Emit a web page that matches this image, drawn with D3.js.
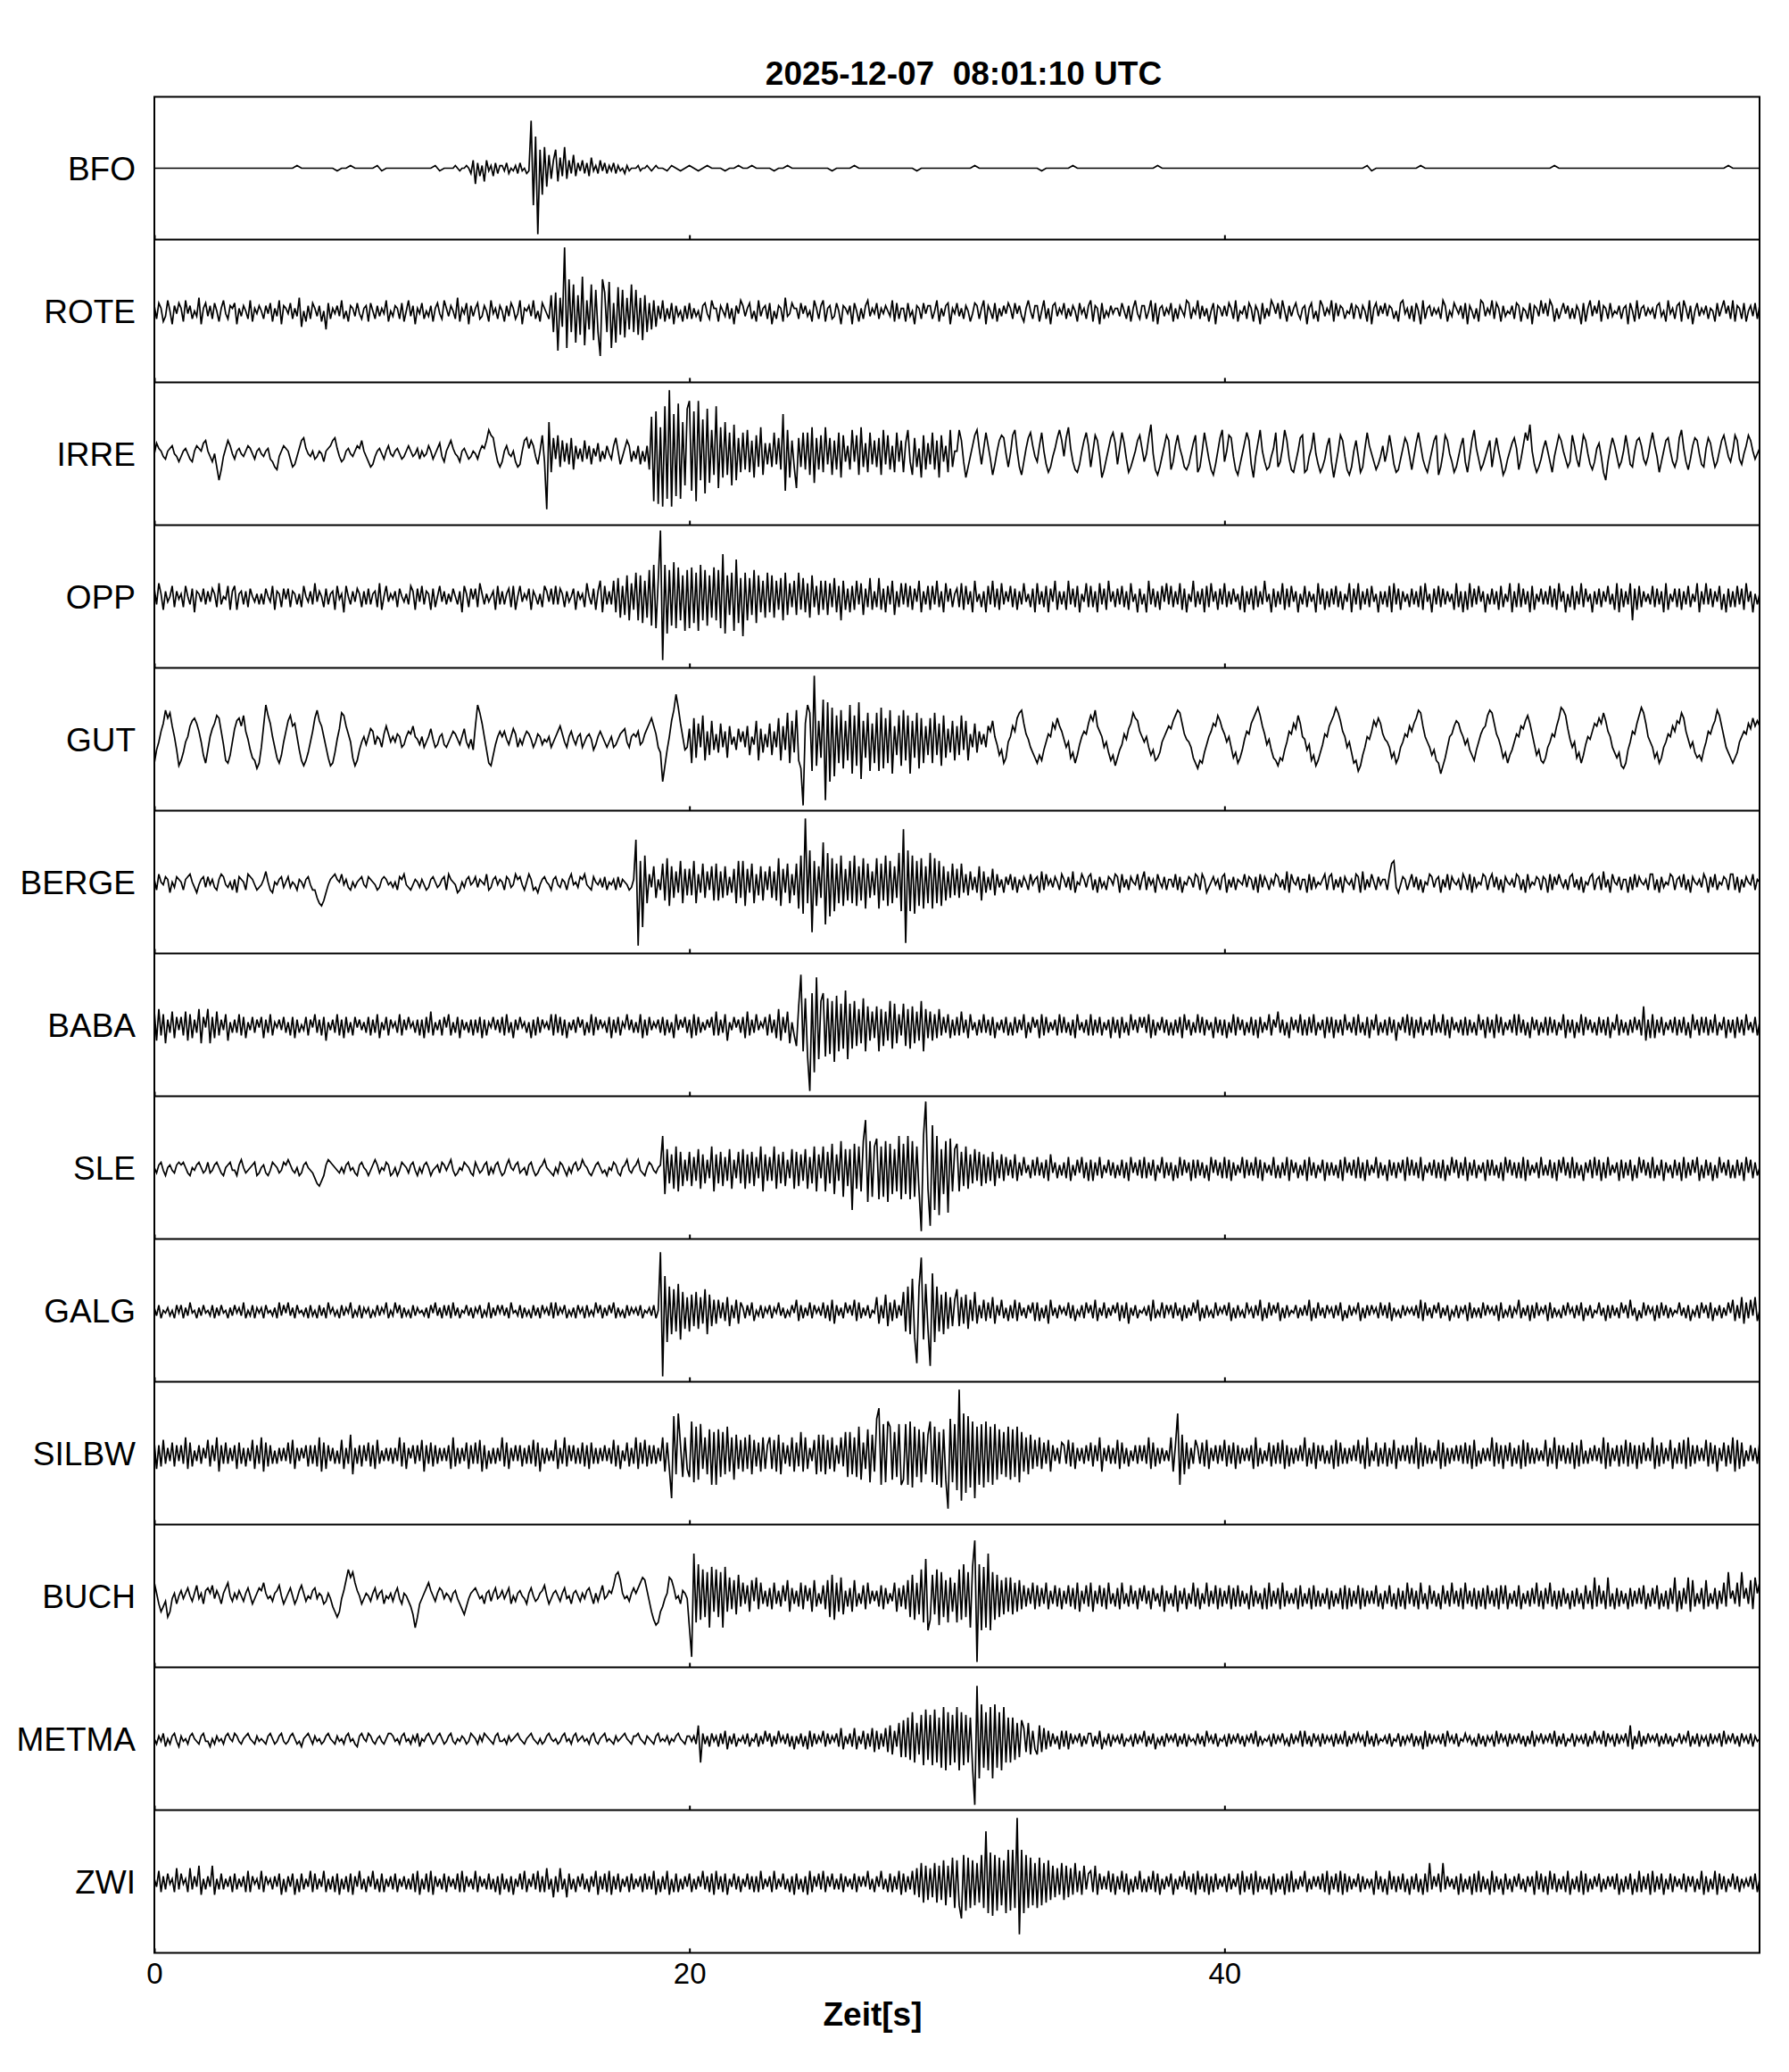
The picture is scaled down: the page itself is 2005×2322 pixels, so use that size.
<!DOCTYPE html>
<html>
<head>
<meta charset="utf-8">
<script src="https://cdn.jsdelivr.net/npm/d3@7"></script>
<style>
    body { margin: 0; background: #fff; }
    svg { display: block; font-family: "Liberation Sans", Arial, Helvetica, sans-serif; }
</style>
</head>
<body>
<svg id="chart" width="2005" height="2322"></svg>
<script>
var title = "2025-12-07  08:01:10 UTC"
var xLabel = "Zeit[s]"
var stations = ["BFO", "ROTE", "IRRE", "OPP", "GUT", "BERGE", "BABA", "SLE", "GALG", "SILBW", "BUCH", "METMA", "ZWI"]
var xTicks = [0, 20, 40]
var duration = 60

// traces: one group per second, one letter per sample
// a..z = 0..25 (up), Z..A = -1..-26 (down), about 3 px per step
var traceBFO = `aaaaaa aaaaaa aaaaaa aaaaaa aaaaaa aabaaa aaaaaZ aabaaa aabZaa aaaaaa
aaabZa aaabaZaabaYd UcXbVdZbXcYb bZcYaZbYcZaY ZsMmBhQiTfWd hVeXiWdYfXcZ dYcXeZbYdZcY bZcYbZaYbZaa abZaabaZabaa aZbaZa
baZaba aaZaab aabaaa aZaaba aaaaaa aaZaaa abaaaa aaaaaa aaaZaa aaaaaa
aaaaba aaaaaa aaaaaa aZaaaa aabaaa aaaaaa aaaaaa aaabaa aaaaaa aaaaaa
aaaaaa aaaaaa aaaaaa aaaaaa aaaaaa aabZaa aaaaaa aabaaa aaaaaa aaaaaa
aaaaaa aaaaaa aabaaa aaaaaa aaaaaa aaaaaa aaaaaa aaaaaa aaaaab aaaaaa a`

var traceROTE = `cXdbWYeaVcZd bWeZcXaYfVbd YcXdaWbeZXcb dVbYcaXeWbZc aXcZdWbYeVcb ZdXbYfUaWcXd bYcWaTdXbZcY eXaWcbYdZXbc WdaXcYbZeWaY cbXdWaeYcVbZ
dXaYcWbdZXeb YcaXfWbZdVcY bdXYcaWeZbXc aWcYdbXZeVba cYeXaWdbZXgS hLfUyMmSkOgR nNeTkPiSJmhS lMdOjRiQfTkS iRfPgSdTeUcX eWbXdVcYaWcX
dXbYaWcdZXeb bWcaYdXbVcZe cYbdXaWeYbcX dVaXcbWfYZdb bXdZcYaWebXc eWbcXYdaVcbZ cVdaWbXceYbZ dXbZcaYeWdXb bWdYaVcbXdZc cXaeWbYcdVbZ
dYbXcaWZdcXb eVcaXdWbYcZd bXdZcYWbeaXc cWaeXbVcdYbZ dXbYcaWdZbXc eWcbVdXaYcZb bYdaXcWbeZXc cXaeWdVbcYbZ dWbXcaYedXbZ eXcYbWadVcbY
cYdbXeWaZcXd bWcaVdXbYecZ dXeaWcYbdZXb cVbdXaWecYbZ eWdYcbXaZdXc bXcaWeVbdYcZ dYcbXaWdeZbX cWdaVeXbcYbZ bXecWaYdbZcX dVcaXbWedYbZ
eXdbWcYaZcXd cWbaXdVcbYeZ dYecWbXadZcX bXcaVdWbeYcZ eWcbXdYaZcXb cVdaWeXbcYbZ bXcdYaWeZbXc dWebXcVadYbZ cXbaWdYbeZcX eWcbXdWacYdX c`

var traceIRRE = `aecbZYbcdaZX ZbcaYXbdcbef bZXaVQUZcfda YbcaZbdcaYbc aZbcYXVUZbdc bYVWZcfgcaZb YZbaXbcdfgcZ XYbcaZbdcfbZ XVWZbcaYbdaZ bcaYZbdbZacY
bZadbYaceZXb dfcaZXbcaYZb aYbdcfjhgbXV XbdaZbXVWbfg cfdZWbhXFmTg YhVfXeWgUdYc XfYdWcZeXbYd aYdgbWZcfdXb YdWbXdUoIqHk GsJyGpKtJmOr
uMqIuQnLrPjS sNkRmSiOlQgT iUjTfRhVkSeW eViWgUpMjRfV NgViUiSkPgUh TkWgSfUiRhXd UjXhSkVeTiWf VgSjWhUdTiXf TejXSgVcRhUe WiUfRhXdTjVb
bjfXRVZdhjcW cidYSWbfhgaV ahjbVSXcgidZ XdibWTVZcgjf ZgkcXUTWbfid VbhfZRUYcgie WcieYTVYbfhc XaglaUSVZdhf UXdhcZVUWaeh TVbidYUSWbgj
XbhgZUSWaeif WRZejbXUVZci VXcjfYUTXbgh TUZciaWTVYdg XRWbhfZUSVbf ZTVcidaXUWZd XbhcWTUYcgeZ UZeidYVTXbfh SVahfaXTVZdg XTZfjcYUWZcf
VbgbXSUYbegc UYdiflbWTVYc fbXTZdhfbYVX hdYVbhfaWUXc eZTQXcgdZVXb hcWVbfgdYWZe idZTXbfgbXVY gjcXUYdgfaWV cgeZVXbfhdZX bhfYWadhfbYa c`

var traceOPP = `dXfbVcYaeWcZ bWeaXdUcbYdX cYdbWfXaZeVc eVbcXcWdaYbX bXdaYeVcbWdZ dWcbXbWeaYcX fYcaWdXbcVeZ bUeaXcYdbWcX dXbcWfVaeYbZ cWdaYbXecVdY
eXcbVdWaeYcX bYdaXcUebWdZ dWfbXbYacVeX cXbdWeVaeYbZ dVcaXbWecYdX eXdbWcYadVcZ bWfaXdVcgUeX cXgUhSeTiRfV jRiQgSkPmOgz CmMkPnOlRiNk
OlQjNmRkPiSl RkOqMiTjNoQh LjRhTkQiUgSj UiSgVhRjTfWg TjVhUfSiWeTg VgTfWhUeRgVd UeVgXfTdWhVc WhVdUeXgTcWf XfWeVdYgUcXe VeXgWcUfYdWb
dWfVeXcUgYbW cUeXgWdVfXcY eWdVcXfYbWdU fXcWeUdYgVcX cVgXdWeUbYfW eWcUfXdVgYcW dXeWcVfYbUdX bUgXdWcVeYfX eWcXfVdUbYgW cXdUeWfYcVdX
fWcXdYbVeUcX dVeWcXgYbUdW cXfVdWeYcUbX eWcYbUfXdVcW dXeWcVbYfUdX fVcXdWeYbUcX cWeUfXdVcYbW dXcWeVfYbUdX eWdXcYbVfWcU cVfWdXeYcUbX
dXcVeWbYfUcW fWdXcUeVbYdX cXeWdVfYcUbW eVcXfWdYbUcX dWcYeXbVfUdW cXfRdVeWcYbX eWdXcUfVbYdW dVcXeWbYfUcX fXdWcYeVbUdW cWeXdVfYcUbX b`

var traceGUT = `RWZdglikfbWQ SVZbfhigdZUR WbegjidYSRUZ ehifjdaWTSPR XfnjgbXTRUZd hjfgbWSQSVZd ilhfbXTQRVae kjfcZTQSWZbY bedYbaXcfcZb ZcbXYbdcfbaY
bXZbeaXYbcYX ZbdcaYbeZXaW fnkgbWRQUYbd bdaYbecXaYbd caXZcbYaZbXZ bdfcZXbdaYbc XZbcaWYbdbZX ZbXYacdeZXbc bdYZcegifcXV KQWbhlrmgbWX
eRiTgXjSdUhW cVgXdTfYbWeZ dXfUbYhSeVcX gUdXiSfWkRhV lSPBgnkOyQhT pDoKmMjRlPhS nNjQoLhTkOgR kOmPiRlNfUjQ lSjNhTkPiRfU iRkUgQjTeVhS
fUjWhScXgVdY cXfdhbYUWRTZ bfdiklgcaXVT RUSWZcbgeifd aXZTVRUYbdcg jhlfdbXZVSUQ TWYcaegkihdb ZbXUWSTVZbdf ehjlkgcaZXTR PSRVYbdgfjhe
cZbXTVRTWadc gikmjfcYaWTS QTSWZdcgejgb aWYSUQSVYcbf hjmkhdbXZVRS OQUXbadhfigc aZXTVRTXZcbf dgilkfbZXUWS RNQTXbcfhgdb YaWUSWZcefjl
kgcaXTVRUWZc bfehjgcYUWSR TXZcbfimljea XZTVRUYbadgf igkhdbXVTVQP RWZdcgjmkgbZ XTVRTXZcbfdh gkidaXZVTUSW ZdcfhljfbXVT RTVZbdcgeifh f`

var traceBERGE = `bXdaZcbWaYcb aXbcdaYWZbcY cZbYXbdcZYaX bWcbaXdcbZXY ZbeaXWaZbcYa cYaZXbaYbcZX XUSRTWZbcdba dZbYXaYabcZY cbaZXYbcbZaY aXcbdZYXZbaY
bZXYbcaYZbcX dbaZWXaYbcZa cYbaZdXYbcZb aXcbYZdbcZXa dbXYWZbcaZXb cZYbaXbdZaYc bdZYXcaZbYcX aZbXcYbaZXYb qCiJkSdYgUbX hTjRgUeWiSfV
fViSdWhUeXgT hTeUgVcWfSiU iRfWhSdVgTeX gUeTjRfWhSdV hQkOySmHiRgU pKlNjPhSkRfT iSkRgTjQhUeV jQhTkRiSgUlP uDmPkOiRjQgS lQjSiRgTeUhV
fUhWdVeXcWgT eWcXfVdYbWcZ dXcWbYcaXdZb cWeXdZbYcaXd bYcXeWaZdbYc dXbWcYaXcbZd cWdYbXcaZdXb eXcZbWdaYcXb bYdXcWaZcbYd cXdbWYacZbXc
dWbYcXbaZdYc bXcWdYcaXbZd cYbXeWdaZcXb bWdXcYaZbdXc dXbYcWcaZbXd cWeXbYdaXcZb bXdhiYWZcbXa dYcXbWaZdcYb cWbYdXcaZbXd bXdWcYaZdcXb
dYcXbWcaZbYd cXbWdYaZcbXc bWdXcZdaYbXc dYbXcWaZcdXb cXeYbWdaZcXb bWcXdYcaZbXd dXbWcYaZdcXb cYdXbWcaZbYd bWcYdXaZcbXd dXcWbYcaZdXb a`

var traceBABA = `fUgWeTcXfVdY dWfUeVcXgTdZ gTdVfWcYeUbX cXeWdVbYdXcZ dVcXeWbZcYdX bWdVcXaYdWcZ eXcWdUbYcXeW cVdXbWdZcYbX dWcXeVbYdWcZ bXeWcYdZbXcW
cVdXfWbYcWdZ eWbXdVcYbXcW cXdVcWbZdYcX dWeXbVcYdZbX bVcWdXcZbYeW eXdWcVbYcXdZ cWbXeWdYcZbX dVcXdWbZeYcX bXeVcWdYbZcX dWcXbVeYcZdX
cVeWdXbYcZdW fWcXeUbYdZcX dVfWcXeYbZdW eXcVgUdXfTbW ShtQkOBmIsNj mOkPjMlQiRnN iRjSgTkQhUfV hQgSfUjRiTeW iSgRhTfUjQgV fUeVgWdXeVcW
dWfXcVeYbWcX eXcWdVbYcXdW bWdXcYeVbXdZ cVeWdXbYcWeX dXbWcVeYbXcW eWcXdWbYcVdX cVdXbWeYcXdZ dXeVcWbYdXcW bWcXdVeYcWbX eXdWcYbVdXcW
cVbXeWdYcWbX dWcVdXbYeWcZ fXcWbVdYcXeW cWdXeWbYcVdX dVcXcWeYbXdW eXbWdVcYeWbX cWdXcUbYdXeW dVcXdWbYcWeX bXeWcVdYbXcW dWcXbWeYcVdX
cVeXdWbYcXeW eXcWbVdYcWbX dWdXcWbYeVcX cVbXeWdYcXbW dXcWdVbYeWcX bWcXdYcWhUcV eVcXdWbYcXdW cXdWbVeYcWdX dWcXeWbYdVcX cVdXcWeYbXdW b`

var traceSLE = `aYbcZXabZYbc bcaYXaZbcaYZ cYZbcaYXabcZ ZXbdaYZabcXY abYXZcbaYZcb dbZYaXYbcaZY WUTVXbdcbaZY aYbcZaYXbcaZ XZbdbYaZcbXY aXZcbaYbcZXa
YbcaXZabYcbZ bdZXYaZcbaYX caYZbcXaYbcZ XYbdaZbcYZaX bcZXYabdaZYX aYcbZXaYbcZa dbaYXZbcaYZX aZcbYXabdZYa bdZYXacbZYab mQhUfSiRgTdV
gTeVhSfUdWiR fUgTeVhSdWgU hSfUgTeWiRfV eViSfUgTdWhS gTfVhSeUiRfW iRgUjQfVkPhT hKjSiRksNkPi lOiPkNjQhRmO jQmOkPiRCmzS EqKmIhQkJlRh
jRgTiSfUhVgT fUeVgTdWfVeX dWfVcXeYbWdX eXcWdVfYcWbX cWeVbXdYeWcV dVcXeWbYdXcW bXdWcVeYcXdW eWcXdVbYeWcX cVbWeXdYcVdW dXcWbVeYdXcW
eWdVcXbYeWdX cXeWdVcYbXeW bWcXeVdYcWbX dVeXcWbYdVcX cXbWdVeYcXdW eWcVdXbYeWcX bVdXcWcYdVeX dXcWeVbYcXdW cWdVbXeYdWcX eVcXdWbYcVdX
dXbWcVeYdXcW cWeVdXbYcWeX bXdWcVdYeXcW eWcXbVcYdWeX dVcWeXbYcVdW cXdVbWeYdXcW eWbXdVcYbWdX cVeWcXdYeVbW dXcVbWeYcXdW bWdXcVeYdWcX a`

var traceGALG = `bYcXaZbYaXcZ cXbYdZaXbYcZ aYcXbYcZaXbY cZbYdXaYcXbZ bXcZaYbXdYcZ dYbXcZaYbXcY aXcYbXdZbYaX cYbZdXaYcXbZ bXaYcYbZdXaY dZcXbYaXcYbZ
aYbXcZdYbXcY cXdYbXaZcYbX bZcXaYdXbYcZ cYbXdZaYcXbY aXcYbXcZbYdX dYbZcXaYbXcZ bXcYaYdZcXbY cZdXbYaXcYbZ bYcXaZbYcXaw BnOjRiSkPhTf
SgUhTfViRgUe VeXdWfUcXeVd bXcYdWaYcXbZ cXbZdYbXaYcZ eWcXbYdXcZbY dXcWeVcYbXdZ cYeWdXbYcXaZ fVcXgUdWeXcY hSjRmQGjuPkT FoOjSgRhTfUe
iUfVgTeWhVcX eWdXfVcYeXbW cXeWdYbXcZdW dWbXcVeYbXcZ bYdXcWaYcXdZ cXeWbYdXbYcZ dWcXdVbYcXaZ bYcWeXaYdXcZ cXdYbWcXbYdZ eWbXcYaXdYbZ
cYdWbXcYaXdZ bXcYeWbXdYcZ dWbXcYaZcXbY cYeWbXdYbXcZ bXcYdWaXcYbZ dWbXcYcZbXdY cXdWbYaXcYbZ bYcXeWdYbXcZ dXbYcWaYcXbZ cWdXbYbXdYcZ
bYcWdXaYcXbZ eXbYcWcXdYbZ cWdXbYaXcYdZ bXcYdWbYcXaZ dYbWcXcYbXdZ cXeYbWaXdYcZ bWcXdYcXbYaZ dYbXcWaYcXdZ cXdWbYcXbYdZ eWcXfVdXeYfW a`

var traceSILBW = `eUdVfWcXeVdX dWgUeVbXdWcY fVdXgTdWeWcX dUeWcVcXfUdW gTeVdWbWcXcX eWfUcXcYdVdW dVgTeUdXcWbW fUcWhScWdVdX eVdUfWbXcXcW cXgVeUcYdWdX
fTdWeVdWcXcX dUgVcWcXeUdW eWfTdUbWcWcX gVeUcXdXdVcW dWfVeTcWcXbX fUcWgVdXdWcW eVdUeWcWcXdX cWfVdUbXeVcW gUeWfVdWdWcX gTeUJoSpdRgU
RmPkQlUgSjOi OjRiSkTgQhUf TgUhSfVeTgUd gUfThSeWdVgT eViTgUcXfShT hSfUgTdWgViR iSgRkQeUjPhT nrOlPmkQiRlO QlOmNkRjPiSh mPkOiNjQFnPl
MyIpLoNmJkOl NmPkOlQjSiRk QjRkPiTgShUf VgUeWfTdXcWe dWfVeUcXcWdX eVdXgTcXdWcW fUeWcVbXdWdX dWgUeVcWcXbX gTdpOhSeUcWf cWeVfUcXdWdX
fVdWeUdWcXcX dUgVcWbXeVdW eWfUdVcWcXdX gVcWeUdXdWbW dUfVeWcWcXdX fWdUgVbXeVcW eVcWfUcXdXdW dWgUeVdWcWbX fUeVcWcXdXdW eWdUfVbWcXcX
gVeWdUdXeVcW dUfVeWcWcXbX fVcWgUdXdWcW eUdVfWbWcXdX cWgUeVcXdVdW fVeWdUdWeXcX gUdVeWcXfUcW eWfUgVdWdXcX fVeWdTcXeVdW gTfUeVbXdXcW e`

var traceBUCH = `fbXUWYSUZbXa cZbdaYbeZbXc dbeZcaXbdfaY bZcaYbdaXZbd cfbZaYbceaXZ bdaXZcebYaZc dZbaXYbZWUSU ZcgkhjfcaXZb aYbdZbcXaZbY bdZXbaYWTOSX
ZbdfcaYbdcZb aYbcZXVTWZbc dbZaXbcYbdZa cZbdXaYbcaZX bdaYZbceaXZb caYbdZaXbcaY bZcdaXbYbeZa cbeijgbZaYbd bdfhgcYURPQU WZbhgdZaXcbZ
ODqQmRkSjOlU kSjOlUhVgTiW fXeUgYhVfXcW dVfXcWeYgUdX cWfVeYdUgWbX eVgSiRfUhTcW dUgWbXeVfXcY cWeVdXbYfUdW eVgSiRfTkQoN RiTkPjSgQhUf
QkRmSjOlvBmN lOqNjRiSgThU hTfUgVeWdXfV eWdXfVcXeWdV cXeWdVfUcXeW fUcXeWdVfXbW dVfXbWeXcVdY eXcVdYbWeUcX bWeUcXdVbXfW dVbXfWcXeVdW
cXeVdWeWcXbV eWcXbVdVfWcX dVfWcXbXdVeW bXdVeWcWbXdV cWbXdVeVdWcX eVdWcXcXeWbV cXeWbVdWcVfX dWcVfXbVeXcW bVeXcWfXcWdV fXcWdVcWdVeX
cWdVeXeVbXcW eVbXcWdXfWcV dXfWcVcWdXbV cWdXbVeXcVhW eXcVhWbVdWcX bVdWcXdXeVbW dXeVbWcVdXhU cVdXhUgWbXdV gWbXdVcXfWjZ cXfWjZdXgVhb f`

var traceMETMA = `aYbZcXaYbcZX bZaYbcaZYbcZ ZXaYbZaYbcaZ cbZYabcaZYbZ aZYbcaYZbcZY ZbcaYZXabcaY bZaYZbcaZYbZ aYbcZaYXbcaZ cbZYabZYaccb ZaYbcZaYbZcX
aZbcaYZbcaYZ bcZYaZbaYZcb aYbZcbaZYbcZ ZaYbZabcaZYa bcaZYaYZbcaZ aYZbcZaYbcZa bZaYbcZYabcZ aZYbZabcaZYb bcaZYbaZYbcZ aZbYaZbcaZYb
bZbYfRcYbXcZ bXcYdWbYcXaZ bYcXaZcXbYdZ cXbYdZbYcXbW bYcXbWdXcYbZ dXcYbZcXeWbY cXeWbYdWcXeV dWcXeVfUdXgT hTiSkRgUjQlS jQlRiPmOkQjR
mOkQjRiPBuLn PkOmLnPkOmRi RiSgTheVgUdW UfVeWdXcYbWd XdWcYbZcXbYc cXbYdWaYcXbZ bYcXaZbXcYbZ dXbYcWaYbXcZ bZcXbYcXbZaY cYbXdZbYcXaZ
bXcYbZcYbXbZ cYdXbYaZbXcY bZcYaXcYbZdX dYbXcZbXcYbZ bXcYbYdXbYcZ cZbXdYbXcYaZ bYcXaZcXbYbZ cXbYbWdXcYbZ bYcXdZbYcXaZ cZbYaXcYbXbZ
bXdYcZbXcYbZ cYbXbYdXbZcY bZcYdXbYcXaZ cXbZbYcXbYdZ bYdXcZbXcYbZ cXfWbYdXbYcZ bZcXbYcYbXaZ cYbZdXbYcXbZ bXcYbZcXdYbZ cYbXcZbYcXbZ a`

var traceZWI = `bYeWcXdZbWfX dZbWfXcYgVbX cYgVbXdXbYcW dXbYcWeWcZbX eWcZbXcYdVbW cYdVbWdXbYeW dXbYeWbXcWdV bXcWdVcYeXbW cYeXbWdWbYcX dWbYcXbXdWeV
bXdWeVcYbXdW cYbXdWeWcYbX eWcYbXdXbWcV dXbWcVbYdXeW bYdXeWcWfXbU cWfXbUdXbWcY dXbWcYeVcXdW eVcXdWbYcWdX bYcWdXcXeVbW cXeVbWdWbXcY
dWbXcYeXcWdV eXcWdVbYdXcW bYdXcWcWeXbY cWeXbYdXbWcV dXbWcVeWcYdX eWcYdXbXdWcY bXdWcYcYeXbW cYeXbWdWcXeV dWcXeVfUhSgT fUhSgTiRgUjQ
iRMkPjQiRhSk QtOlNkPjRiOm PmQyGmOkQjRh QjRhSiTgUfVh TgUfVhWeVgXd eWgVdXcXeWdV cXeWdVbWcXeW bWcXeWdVbXcY dVbXcYeXcWdV eXcWdVcWdXbY
cWdXbYdVeWcX dVeWcXbXcVdW bXcVdWeWbXcY eWbXcYcXdWeV cXdWeVdWcXbY dWcXbYbVeXcW bVeXcWcXdWbV cXdWbVdWhXcY dWhXcYbXcVdW bXcVdWeWcXbV
eWcXbVdXbWcY dXbWcYcVeXdW cVeXdWbXcWeV bXcWeVdWbXcY dWbXcYcXdVbW cXdVbWeWcXdV eWcXdVbXdWcY bXdWcYcWbXeV cWbXeVdXcWbY dXcWbYbYcXdW b`

var traces = [traceBFO, traceROTE, traceIRRE, traceOPP, traceGUT, traceBERGE, traceBABA,
    traceSLE, traceGALG, traceSILBW, traceBUCH, traceMETMA, traceZWI]

// turn a coded trace into [seconds, amplitude] pairs
function decodeTrace(code) {
    var points = []
    code.trim().split(/\s+/).forEach(function(group, sec) {
        for (var j = 0; j < group.length; j++) {
            var c = group.charCodeAt(j)
            points.push([sec + j / group.length, c >= 97 ? c - 97 : c - 91])
        }
    })
    return points
}

var plotLeft = 173,
    plotRight = 1972,
    plotTop = 108.5,
    panelHeight = 160

var svg = d3.select("#chart")

var x = d3.scaleLinear()
    .domain([0, duration])
    .range([plotLeft, plotRight])

var y = d3.scaleLinear()
    .domain([-27, 27])
    .range([panelHeight, 0])

var line = d3.line()
    .x(function(d) { return x(d[0]) })
    .y(function(d) { return y(d[1]) })

var panel = svg.selectAll(".panel")
    .data(stations)
    .enter().append("g")
    .attr("class", "panel")
    .attr("transform", function(d, i) { return "translate(0," + (plotTop + i * panelHeight) + ")" })

panel.append("path")
    .attr("d", function(d, i) { return line(decodeTrace(traces[i])) })
    .style("fill", "none")
    .style("stroke", "#000")
    .style("stroke-width", "1.7px")

panel.append("text")
    .attr("x", plotLeft - 21)
    .attr("y", panelHeight / 2)
    .attr("dy", 13.5)
    .attr("text-anchor", "end")
    .style("font-size", "37px")
    .text(function(d) { return d })

// small inward ticks along the bottom of every panel
panel.each(function(d, i) {
    var axis = d3.axisBottom(x)
        .tickValues(xTicks)
        .tickSize(-5)
        .tickPadding(11)

    if (i < stations.length - 1) axis.tickFormat("")

    var g = d3.select(this).append("g")
        .attr("transform", "translate(0," + panelHeight + ")")
        .call(axis)

    g.select(".domain").remove()
    g.selectAll(".tick line").style("stroke", "#000").style("stroke-width", "2px")
    g.selectAll(".tick text")
        .style("font-size", "33px")
        .style("font-family", "'Liberation Sans', Arial, sans-serif")
        .style("fill", "#000")
})

// panel frames
svg.append("rect")
    .attr("x", plotLeft)
    .attr("y", plotTop)
    .attr("width", plotRight - plotLeft)
    .attr("height", panelHeight * stations.length)
    .style("fill", "none")
    .style("stroke", "#000")
    .style("stroke-width", "2px")

svg.selectAll(".sep")
    .data(d3.range(1, stations.length))
    .enter().append("line")
    .attr("class", "sep")
    .attr("x1", plotLeft)
    .attr("x2", plotRight)
    .attr("y1", function(d) { return plotTop + d * panelHeight })
    .attr("y2", function(d) { return plotTop + d * panelHeight })
    .style("stroke", "#000")
    .style("stroke-width", "2px")

svg.append("text")
    .attr("x", 1080)
    .attr("y", 95)
    .attr("text-anchor", "middle")
    .style("font-size", "37px")
    .style("font-weight", "bold")
    .style("white-space", "pre")
    .text(title)

svg.append("text")
    .attr("x", 978)
    .attr("y", 2270)
    .attr("text-anchor", "middle")
    .style("font-size", "37px")
    .style("font-weight", "bold")
    .text(xLabel)
</script>
</body>
</html>
